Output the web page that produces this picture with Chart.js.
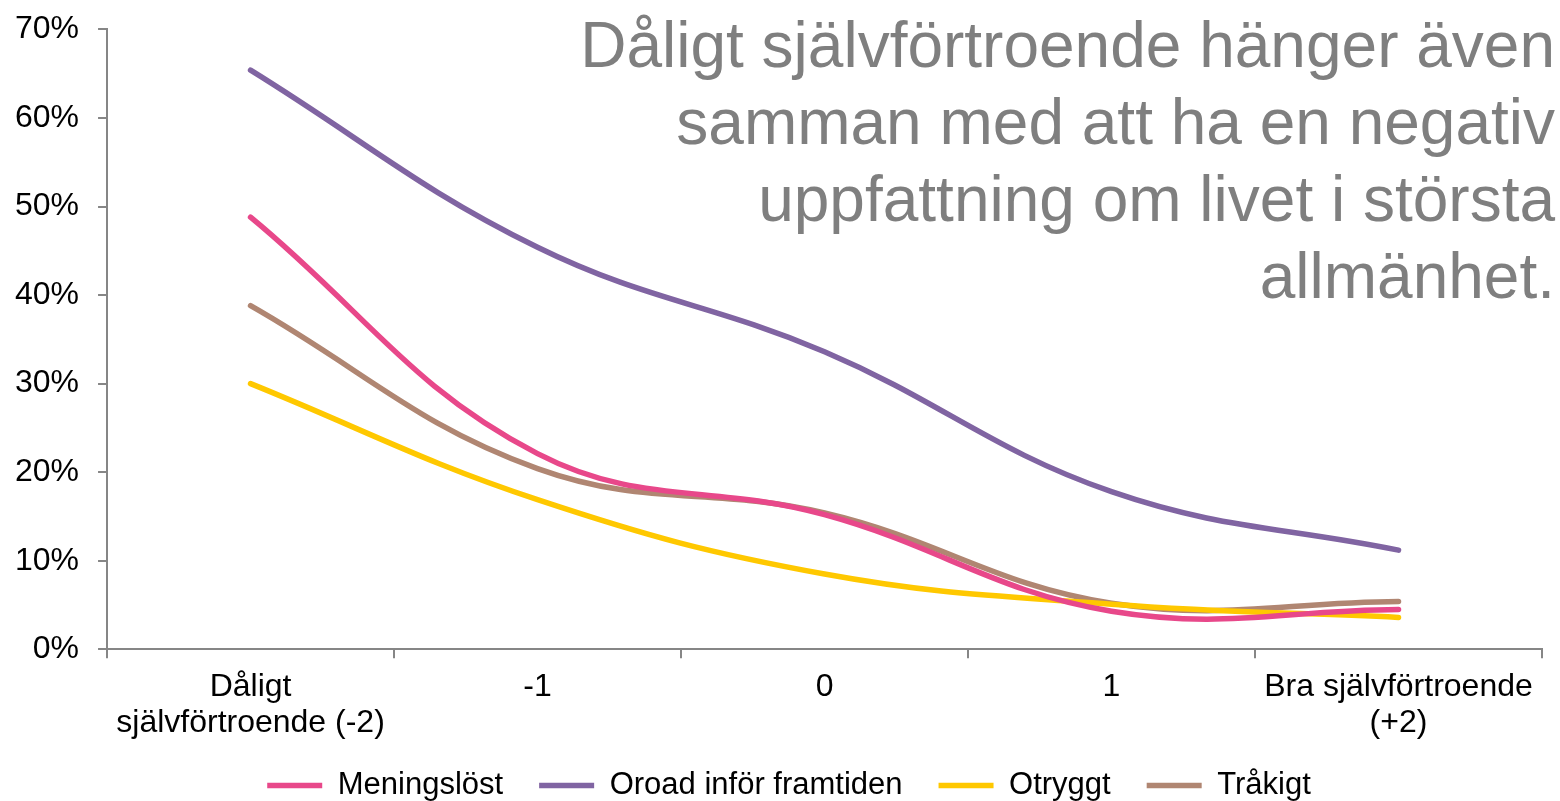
<!DOCTYPE html>
<html>
<head>
<meta charset="utf-8">
<script src="https://cdn.jsdelivr.net/npm/chart.js@4"></script>
<style>
  html, body { margin: 0; padding: 0; background: #fff; }
  #wrap { position: relative; width: 1560px; height: 801px; }
  #title {
    position: absolute; right: 5px; top: 7px;
    text-align: right; color: #7f7f7f;
    font-family: "Liberation Sans", Arial, sans-serif;
    font-size: 64px; line-height: 77px;
    pointer-events: none;
  }
</style>
</head>
<body>
<div id="wrap">
  <canvas id="chart" width="1560" height="801"></canvas>
  <div id="title">Dåligt självförtroende hänger även<br>samman med att ha en negativ<br>uppfattning om livet i största<br>allmänhet.</div>
</div>
<script>
const labels = [
  ["Dåligt", "självförtroende (-2)"],
  "-1",
  "0",
  "1",
  ["Bra självförtroende", "(+2)"],
];

const meningslost = [48.8, 22.1, 15.2, 4.3, 4.5];
const oroad = [65.4, 45.4, 33.6, 17.8, 11.2];
const otryggt = [30.0, 16.9, 8.5, 5.1, 3.6];
const trakigt = [38.8, 20.4, 15.4, 5.2, 5.4];

const yTicks = [0, 10, 20, 30, 40, 50, 60, 70];

const FONT = "'Liberation Sans', Arial, sans-serif";
const AXIS = "#868686";

function series(label, data, color) {
  return {
    label: label,
    data: data,
    borderColor: color,
    backgroundColor: color,
    borderWidth: 5.5,
    borderCapStyle: "round",
    pointRadius: 0,
    pointHoverRadius: 0,
    tension: 0.4,
    fill: false,
  };
}

// the legend needs wide gaps between items but sits close to the axis
// labels, so move it after layout
const legendNudge = {
  id: "legendNudge",
  afterLayout(chart) {
    chart.legend.top -= 18;
    chart.legend.bottom -= 18;
    chart.legend.left += 20;
    chart.legend.right += 20;
  },
};

const ctx = document.getElementById("chart");

new Chart(ctx, {
  type: "line",
  data: {
    labels: labels,
    datasets: [
      series("Meningslöst", meningslost, "#e8488a"),
      series("Oroad inför framtiden", oroad, "#8064a2"),
      series("Otryggt", otryggt, "#ffc800"),
      series("Tråkigt", trakigt, "#b08672"),
    ],
  },
  plugins: [legendNudge],
  options: {
    responsive: false,
    animation: false,
    layout: { padding: { top: 0, right: 18, left: -4, bottom: -28 } },
    plugins: {
      tooltip: { enabled: false },
      legend: {
        position: "bottom",
        labels: {
          color: "#000",
          font: { family: FONT, size: 31 },
          usePointStyle: true,
          pointStyle: "line",
          pointStyleWidth: 55,
          boxHeight: 5,
          padding: 36,
        },
      },
    },
    scales: {
      x: {
        offset: true,
        border: { color: AXIS, width: 2 },
        grid: {
          offset: true,
          drawOnChartArea: false,
          drawTicks: true,
          tickLength: 9,
          color: AXIS,
          lineWidth: 2,
        },
        ticks: {
          color: "#000",
          font: { family: FONT, size: 32, lineHeight: 1.12 },
          padding: 11,
          maxRotation: 0,
          autoSkip: false,
        },
      },
      y: {
        min: 0,
        max: 70,
        afterBuildTicks: (axis) => {
          axis.ticks = yTicks.map((v) => ({ value: v }));
        },
        border: { color: AXIS, width: 2 },
        grid: {
          drawOnChartArea: false,
          drawTicks: true,
          tickLength: 9,
          color: AXIS,
          lineWidth: 2,
        },
        ticks: {
          color: "#000",
          font: { family: FONT, size: 32, lineHeight: 0.65 },
          padding: 19,
          callback: (v) => v + "%",
        },
      },
    },
  },
});
</script>
</body>
</html>
